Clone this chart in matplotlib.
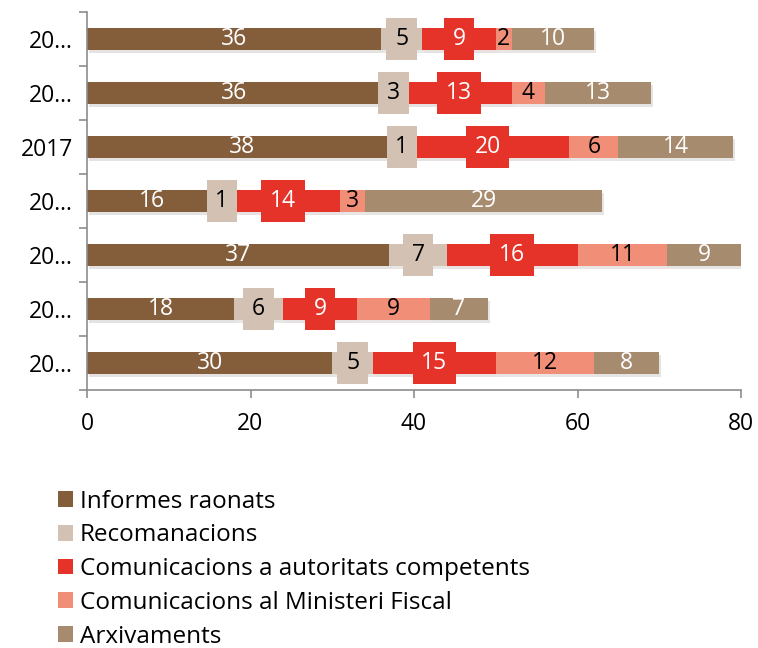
"""Stacked horizontal bars: actuacions per any."""
import matplotlib
matplotlib.use("Agg")
import matplotlib.pyplot as plt
import matplotlib.patheffects as pe
from matplotlib.patches import Patch
import numpy as np

plt.rcParams["font.family"] = ["Open Sans", "DejaVu Sans"]

# data (top row first)
years = ["20…", "20…", "2017", "20…", "20…", "20…", "20…"]
series_names = [
    "Informes raonats",
    "Recomanacions",
    "Comunicacions a autoritats competents",
    "Comunicacions al Ministeri Fiscal",
    "Arxivaments",
]
informes = [36, 36, 38, 16, 37, 18, 30]
recomanacions = [5, 3, 1, 1, 7, 6, 5]
autoritats = [9, 13, 20, 14, 16, 9, 15]
fiscal = [2, 4, 6, 3, 11, 9, 12]
arxivaments = [10, 13, 14, 29, 9, 7, 8]

colors = ["#845d3b", "#d3c1b4", "#e5332a", "#f18e77", "#a78b6e"]
text_colors = ["white", "black", "white", "black", "white"]
boxed = [False, True, True, False, False]

fig = plt.figure(figsize=(7.58, 6.48), dpi=100)
ax = fig.add_axes([87 / 758, 1 - 390 / 648, 654 / 758, 378 / 648])

y = np.arange(len(years))
left = np.zeros(len(years))
shadow = [pe.SimplePatchShadow(offset=(1.5, -2), alpha=0.12), pe.Normal()]
for vals, name, col, tcol, box in zip(
    [informes, recomanacions, autoritats, fiscal, arxivaments],
    series_names, colors, text_colors, boxed,
):
    vals = np.array(vals, dtype=float)
    bars = ax.barh(y, vals, left=left, height=0.41, color=col,
                   edgecolor="none", label=name, zorder=2)
    for b in bars:
        b.set_path_effects(shadow)
    for yi, v, l0 in zip(y, vals, left):
        kw = {}
        if box:
            kw["bbox"] = dict(boxstyle="square,pad=0.38", fc=col, ec="none")
        ax.text(l0 + v / 2, yi, f"{int(v)}", ha="center", va="center",
                color=tcol, fontsize=16.5, zorder=4, **kw)
    left += vals

ax.set_xlim(0, 80)
ax.set_ylim(len(years) - 0.5, -0.5)
ax.set_xticks([0, 20, 40, 60, 80])
ax.set_yticks(y)
ax.set_yticklabels(years)
ax.set_yticks(np.arange(-0.5, len(years)), minor=True)
ax.tick_params(axis="y", which="major", length=0, pad=10, labelsize=16.5)
ax.tick_params(axis="y", which="minor", length=6, color="#8c8c8c", width=1.2)
ax.tick_params(axis="x", length=6, color="#8c8c8c", width=1.2, pad=10,
               labelsize=16.5)
for side in ("top", "right"):
    ax.spines[side].set_visible(False)
for side in ("left", "bottom"):
    ax.spines[side].set_color("#8c8c8c")
    ax.spines[side].set_linewidth(1.2)

handles = [Patch(facecolor=c, edgecolor="none") for c in colors]
fig.legend(handles, series_names, loc="upper left",
           bbox_to_anchor=(48 / 758, 1 - 480 / 648), frameon=False,
           fontsize=17.5, handlelength=0.62, handleheight=0.62,
           handletextpad=0.3, labelspacing=0.4, borderaxespad=0)

fig.savefig("out.png", dpi=100)
